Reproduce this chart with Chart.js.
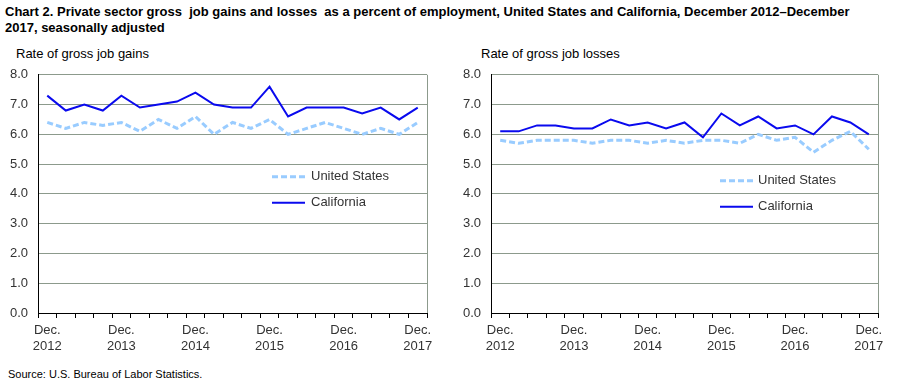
<!DOCTYPE html>
<html>
<head>
<meta charset="utf-8">
<script src="https://cdn.jsdelivr.net/npm/chart.js@4.4.1/dist/chart.umd.min.js"></script>
<style>
  body { margin: 0; width: 901px; height: 385px; background: #fff; position: relative; overflow: hidden;
         font-family: "Liberation Sans", Arial, sans-serif; }
  #title { position: absolute; left: 5px; top: 4px; font: bold 13px "Liberation Sans Narrow", "Liberation Sans", sans-serif;
           line-height: 16px; white-space: nowrap; color: #000; }
  .sub { position: absolute; top: 46px; font-size: 13px; color: #000; }
  .box { position: absolute; top: 57px; }
  #source { position: absolute; left: 8px; top: 368px; font-size: 11px; color: #000; }
</style>
</head>
<body>
<div id="title">Chart 2. Private sector gross &nbsp;job gains and losses &nbsp;as a percent of employment, United States and California, December 2012–December<br>2017, seasonally adjusted</div>
<div class="sub" style="left:16px">Rate of gross job gains</div>
<div class="sub" style="left:481px">Rate of gross job losses</div>
<div class="box" style="left:0"><canvas id="gains" width="445" height="305"></canvas></div>
<div class="box" style="left:450px"><canvas id="losses" width="451" height="305"></canvas></div>
<div id="source">Source: U.S. Bureau of Labor Statistics.</div>
<script>
// quarters, Dec. 2012 - Dec. 2017
const quarters = [
    'Dec. 2012', 'Mar. 2013', 'Jun. 2013', 'Sep. 2013',
    'Dec. 2013', 'Mar. 2014', 'Jun. 2014', 'Sep. 2014',
    'Dec. 2014', 'Mar. 2015', 'Jun. 2015', 'Sep. 2015',
    'Dec. 2015', 'Mar. 2016', 'Jun. 2016', 'Sep. 2016',
    'Dec. 2016', 'Mar. 2017', 'Jun. 2017', 'Sep. 2017',
    'Dec. 2017'
];

const gainsUS = [6.4, 6.2, 6.4, 6.3, 6.4, 6.1, 6.5, 6.2, 6.6, 6.0, 6.4, 6.2, 6.5, 6.0, 6.2, 6.4, 6.2, 6.0, 6.2, 6.0, 6.4];
const gainsCA = [7.3, 6.8, 7.0, 6.8, 7.3, 6.9, 7.0, 7.1, 7.4, 7.0, 6.9, 6.9, 7.6, 6.6, 6.9, 6.9, 6.9, 6.7, 6.9, 6.5, 6.9];

const lossesUS = [5.8, 5.7, 5.8, 5.8, 5.8, 5.7, 5.8, 5.8, 5.7, 5.8, 5.7, 5.8, 5.8, 5.7, 6.0, 5.8, 5.9, 5.4, 5.8, 6.1, 5.5];
const lossesCA = [6.1, 6.1, 6.3, 6.3, 6.2, 6.2, 6.5, 6.3, 6.4, 6.2, 6.4, 5.9, 6.7, 6.3, 6.6, 6.2, 6.3, 6.0, 6.6, 6.4, 6.0];

Chart.defaults.font.family = '"Liberation Sans", Arial, sans-serif';
Chart.defaults.font.size = 13;

// gray right-hand border of the plot box
const frame = {
    id: 'frame',
    beforeDatasetsDraw(chart) {
        const { ctx, chartArea } = chart;
        ctx.save();
        ctx.strokeStyle = '#8c9a8c';
        ctx.lineWidth = 1;
        ctx.beginPath();
        ctx.moveTo(Math.round(chartArea.right) + 0.5, chartArea.top);
        ctx.lineTo(Math.round(chartArea.right) + 0.5, chartArea.bottom);
        ctx.stroke();
        ctx.restore();
    }
};

// legend drawn inside the plot area
const insideLegend = {
    id: 'insideLegend',
    afterDatasetsDraw(chart, args, opts) {
        const { ctx, chartArea } = chart;
        ctx.save();
        chart.data.datasets.forEach((ds, i) => {
            const x = chartArea.left + opts.left;
            const y = chartArea.top + opts.top + i * opts.gap;
            ctx.beginPath();
            ctx.setLineDash(ds.borderDash || []);
            ctx.lineWidth = ds.borderWidth;
            ctx.strokeStyle = ds.borderColor;
            ctx.moveTo(x, y);
            ctx.lineTo(x + opts.len, y);
            ctx.stroke();
            ctx.setLineDash([]);
            ctx.fillStyle = '#333';
            ctx.font = '13px "Liberation Sans", Arial, sans-serif';
            ctx.textBaseline = 'middle';
            ctx.fillText(ds.label, x + opts.textAt, y);
        });
        ctx.restore();
    }
};

function makeChart(id, us, ca, yWidth, padRight, legendPos) {
    return new Chart(document.getElementById(id), {
        type: 'line',
        data: {
            labels: quarters,
            datasets: [{
                label: 'United States',
                data: us,
                borderColor: '#99ccff',
                borderWidth: 3,
                borderDash: [6, 3],
                pointRadius: 0,
                tension: 0
            }, {
                label: 'California',
                data: ca,
                borderColor: '#0a0aee',
                borderWidth: 2,
                pointRadius: 0,
                tension: 0
            }]
        },
        options: {
            responsive: false,
            animation: false,
            devicePixelRatio: 1,
            layout: { padding: { top: 10, right: padRight, left: 0, bottom: 0 } },
            plugins: {
                legend: { display: false },
                tooltip: { enabled: false },
                insideLegend: legendPos
            },
            scales: {
                x: {
                    offset: true,
                    grid: { offset: true, drawOnChartArea: false, drawTicks: true, tickLength: 5, color: '#000' },
                    border: { color: '#000', width: 1 },
                    ticks: {
                        autoSkip: false,
                        maxRotation: 0,
                        color: '#333',
                        padding: 5,
                        callback: (v, i) => quarters[i].startsWith('Dec.') ? quarters[i].split(' ') : ''
                    },
                    afterFit: s => { s.height = 49; }
                },
                y: {
                    min: 0,
                    max: 8,
                    grid: { color: '#8c9a8c', drawTicks: false },
                    border: { color: '#000' },
                    ticks: { stepSize: 1, color: '#333', padding: 10, callback: v => v.toFixed(1) },
                    afterFit: s => { s.width = yWidth; }
                }
            }
        },
        plugins: [frame, insideLegend]
    });
}

makeChart('gains', gainsUS, gainsCA, 38, 18, { left: 234, top: 102, gap: 26, len: 33, textAt: 39 });
makeChart('losses', lossesUS, lossesCA, 41, 23, { left: 229, top: 106, gap: 26, len: 33, textAt: 38 });
</script>
</body>
</html>
